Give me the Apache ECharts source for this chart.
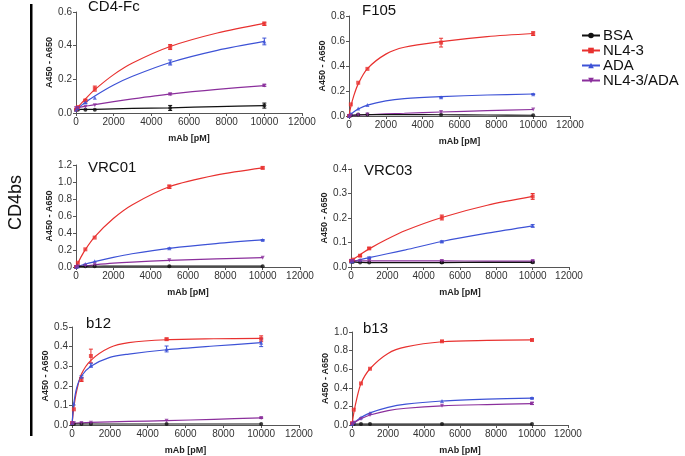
<!DOCTYPE html>
<html>
<head>
<meta charset="utf-8">
<script src="https://cdn.jsdelivr.net/npm/echarts@6/dist/echarts.min.js"></script>
<style>
  html, body { margin: 0; padding: 0; background: #fff; }
  #chart { width: 685px; height: 456px; }
</style>
</head>
<body>
<div id="chart"></div>
<script>
// antibody concentrations, pM (measured points)
const doses = [0, 100, 500, 1000, 5000, 10000]
const fitDoses = [0, 100, 250, 500, 1000, 2000, 3000, 5000, 7500, 10000]
const names = ['BSA', 'NL4-3', 'ADA', 'NL4-3/ADA']
const colors = ['#111111', '#e8312f', '#3d52d6', '#8b2f9c']
const symbols = ['circle', 'rect', 'triangle', 'path://M0,0 L10,0 L5,10 Z']

// rows: BSA, NL4-3, ADA, NL4-3/ADA
const cd4fc = [
  [0.02, 0.02, 0.02, 0.02, 0.03, 0.044],
  [0.02, 0.035, 0.075, 0.145, 0.392, 0.53],
  [0.02, 0.03, 0.062, 0.09, 0.30, 0.425],
  [0.03, 0.03, 0.036, 0.046, 0.112, 0.163]
]
const f105 = [
  [0.0, 0.005, 0.012, 0.012, 0.01, 0.006],
  [0.0, 0.093, 0.266, 0.377, 0.587, 0.659],
  [0.0, 0.02, 0.06, 0.088, 0.151, 0.175],
  [0.0, 0.003, 0.008, 0.012, 0.032, 0.052]
]
const vrc01 = [
  [0.0, 0.005, 0.008, 0.01, 0.01, 0.01],
  [0.0, 0.05, 0.208, 0.346, 0.944, 1.166],
  [0.0, 0.01, 0.035, 0.067, 0.22, 0.318],
  [0.0, 0.005, 0.015, 0.028, 0.078, 0.11]
]
const vrc03 = [
  [0.022, 0.02, 0.018, 0.018, 0.018, 0.019],
  [0.025, 0.03, 0.046, 0.076, 0.202, 0.288],
  [0.022, 0.024, 0.03, 0.038, 0.104, 0.168],
  [0.025, 0.025, 0.025, 0.025, 0.025, 0.024]
]
const b12 = [
  [0.005, 0.005, 0.005, 0.005, 0.005, 0.005],
  [0.01, 0.08, 0.232, 0.352, 0.438, 0.44],
  [0.01, 0.11, 0.246, 0.305, 0.388, 0.42],
  [0.008, 0.01, 0.01, 0.012, 0.022, 0.036]
]
const b13 = [
  [0.01, 0.01, 0.01, 0.01, 0.01, 0.01],
  [0.02, 0.165, 0.447, 0.605, 0.9, 0.914],
  [0.01, 0.03, 0.08, 0.13, 0.258, 0.289],
  [0.01, 0.025, 0.065, 0.107, 0.206, 0.23]
]

// fitted curves, read at fitDoses
const cd4fcFit = [
  [0.02, 0.02, 0.021, 0.021, 0.022, 0.025, 0.027, 0.031, 0.038, 0.044],
  [0.02, 0.034, 0.053, 0.084, 0.139, 0.228, 0.297, 0.395, 0.475, 0.532],
  [0.02, 0.029, 0.042, 0.063, 0.101, 0.166, 0.218, 0.30, 0.372, 0.425],
  [0.03, 0.032, 0.035, 0.04, 0.05, 0.068, 0.084, 0.112, 0.14, 0.163]
]
const f105Fit = [
  [0.005, 0.006, 0.008, 0.01, 0.011, 0.011, 0.011, 0.01, 0.008, 0.006],
  [0.0, 0.075, 0.157, 0.257, 0.379, 0.495, 0.55, 0.595, 0.635, 0.66],
  [0.0, 0.014, 0.032, 0.056, 0.087, 0.121, 0.139, 0.155, 0.168, 0.176],
  [0.0, 0.002, 0.003, 0.006, 0.01, 0.017, 0.022, 0.032, 0.043, 0.052]
]
const vrc01Fit = [
  [0.005, 0.006, 0.007, 0.008, 0.009, 0.01, 0.01, 0.01, 0.01, 0.01],
  [0.0, 0.045, 0.11, 0.205, 0.355, 0.57, 0.73, 0.944, 1.08, 1.166],
  [0.0, 0.007, 0.017, 0.034, 0.064, 0.114, 0.156, 0.22, 0.276, 0.318],
  [0.0, 0.003, 0.007, 0.014, 0.026, 0.045, 0.058, 0.078, 0.096, 0.11]
]
const vrc03Fit = [
  [0.022, 0.021, 0.02, 0.019, 0.018, 0.018, 0.018, 0.018, 0.019, 0.019],
  [0.025, 0.03, 0.038, 0.05, 0.074, 0.114, 0.149, 0.202, 0.252, 0.288],
  [0.022, 0.024, 0.026, 0.03, 0.038, 0.054, 0.07, 0.104, 0.138, 0.168],
  [0.025, 0.025, 0.025, 0.025, 0.025, 0.025, 0.025, 0.025, 0.024, 0.024]
]
const b12Fit = [
  [0.005, 0.005, 0.005, 0.005, 0.005, 0.005, 0.005, 0.005, 0.005, 0.005],
  [0.0, 0.09, 0.175, 0.26, 0.33, 0.395, 0.42, 0.435, 0.44, 0.442],
  [0.0, 0.11, 0.19, 0.25, 0.30, 0.345, 0.362, 0.384, 0.403, 0.42],
  [0.008, 0.009, 0.01, 0.011, 0.013, 0.016, 0.018, 0.022, 0.029, 0.036]
]
const b13Fit = [
  [0.01, 0.01, 0.01, 0.01, 0.01, 0.01, 0.01, 0.01, 0.01, 0.01],
  [0.0, 0.13, 0.27, 0.447, 0.605, 0.77, 0.84, 0.895, 0.91, 0.915],
  [0.0, 0.02, 0.045, 0.08, 0.13, 0.19, 0.225, 0.258, 0.278, 0.289],
  [0.0, 0.018, 0.04, 0.068, 0.107, 0.155, 0.18, 0.206, 0.22, 0.23]
]

// standard deviations, same layout as the points
const cd4fcErr = [
  [0, 0, 0, 0, 0.015, 0.015],
  [0, 0, 0.005, 0.015, 0.015, 0.01],
  [0, 0, 0.005, 0, 0.015, 0.02],
  [0, 0, 0, 0, 0.005, 0.005]
]
const f105Err = [
  [0, 0, 0, 0, 0, 0],
  [0, 0, 0, 0, 0.035, 0.015],
  [0, 0, 0, 0, 0.005, 0.003],
  [0, 0, 0, 0, 0, 0]
]
const vrc01Err = [
  [0, 0, 0, 0, 0, 0],
  [0, 0, 0, 0, 0.02, 0.012],
  [0, 0, 0, 0, 0.005, 0.005],
  [0, 0, 0, 0, 0, 0]
]
const vrc03Err = [
  [0, 0, 0, 0, 0.003, 0.003],
  [0, 0, 0.003, 0.003, 0.01, 0.012],
  [0, 0, 0, 0.003, 0.003, 0.005],
  [0, 0, 0, 0, 0.003, 0.003]
]
const b12Err = [
  [0, 0, 0, 0, 0, 0],
  [0, 0, 0.01, 0.035, 0.005, 0.015],
  [0, 0, 0.005, 0.01, 0.015, 0.02],
  [0, 0, 0, 0, 0, 0.003]
]
const b13Err = [
  [0, 0, 0, 0, 0, 0],
  [0, 0, 0, 0, 0.005, 0.01],
  [0, 0, 0, 0, 0, 0.005],
  [0, 0, 0, 0, 0, 0.01]
]

const panels = [
  { title: 'CD4-Fc', data: cd4fc, fit: cd4fcFit, err: cd4fcErr, ymax: 0.6, step: 0.2,
    grid: { left: 76, top: 12, width: 226, height: 101 }, tx: 88, ty: -1 },
  { title: 'F105', data: f105, fit: f105Fit, err: f105Err, ymax: 0.8, step: 0.2,
    grid: { left: 349, top: 16, width: 221, height: 100 }, tx: 362, ty: 3 },
  { title: 'VRC01', data: vrc01, fit: vrc01Fit, err: vrc01Err, ymax: 1.2, step: 0.2,
    grid: { left: 76, top: 165, width: 224, height: 102 }, tx: 88, ty: 160 },
  { title: 'VRC03', data: vrc03, fit: vrc03Fit, err: vrc03Err, ymax: 0.4, step: 0.1,
    grid: { left: 351, top: 169, width: 218, height: 98 }, tx: 364, ty: 163 },
  { title: 'b12', data: b12, fit: b12Fit, err: b12Err, ymax: 0.5, step: 0.1,
    grid: { left: 72, top: 327, width: 227, height: 101 }, tx: 86, ty: 316 },
  { title: 'b13', data: b13, fit: b13Fit, err: b13Err, ymax: 1.0, step: 0.2,
    grid: { left: 352, top: 332, width: 216, height: 97 }, tx: 363, ty: 321 }
]

const font = 'Liberation Sans, Arial, sans-serif'
const axisColor = '#555'

let grids = []
let xAxes = []
let yAxes = []
let series = []
let graphics = []

panels.forEach((p, i) => {
  grids.push(p.grid)
  xAxes.push({
    type: 'value', gridIndex: i, min: 0, max: 12000, interval: 2000,
    name: 'mAb [pM]', nameLocation: 'middle', nameGap: 21,
    nameTextStyle: { fontFamily: font, fontWeight: 'bold', fontSize: 9, color: '#222' },
    axisLine: { lineStyle: { color: axisColor, width: 1.2 } },
    axisTick: { length: 3, lineStyle: { color: axisColor } },
    axisLabel: { fontFamily: font, fontSize: 10, color: '#333', margin: 4,
      formatter: v => String(v) },
    splitLine: { show: false }
  })
  yAxes.push({
    type: 'value', gridIndex: i, min: 0, max: p.ymax, interval: p.step,
    name: 'A450 - A650', nameLocation: 'middle', nameGap: 17,
    nameTextStyle: { fontFamily: font, fontWeight: 'bold', fontSize: 9, color: '#222' },
    axisLine: { show: true, lineStyle: { color: axisColor } },
    axisTick: { show: true, length: 3, lineStyle: { color: axisColor } },
    axisLabel: { fontFamily: font, fontSize: 10, color: '#333', margin: 4,
      formatter: v => v.toFixed(1) },
    splitLine: { show: false }
  })
  p.data.forEach((row, k) => {
    // fitted curve
    series.push({
      name: names[k], type: 'line', xAxisIndex: i, yAxisIndex: i,
      data: fitDoses.map((d, j) => [d, p.fit[k][j]]),
      smooth: 0.3, showSymbol: false,
      symbol: symbols[k], symbolSize: 6,
      lineStyle: { color: colors[k], width: 1.2 },
      itemStyle: { color: colors[k] },
      z: k === 0 ? 3 : 2
    })
    // measured points
    series.push({
      name: names[k], type: 'scatter', xAxisIndex: i, yAxisIndex: i,
      data: doses.map((d, j) => [d, row[j]]),
      symbol: symbols[k], symbolSize: 4,
      itemStyle: { color: colors[k] },
      z: 4
    })
    // error bars
    series.push({
      type: 'custom', xAxisIndex: i, yAxisIndex: i,
      data: doses.map((d, j) => [d, row[j], p.err[k][j]]).filter(e => e[2] > 0),
      silent: true,
      renderItem: (params, api) => {
        const x = api.value(0), y = api.value(1), e = api.value(2)
        const hi = api.coord([x, y + e])
        const lo = api.coord([x, y - e])
        const st = { stroke: colors[k], lineWidth: 1 }
        return {
          type: 'group',
          children: [
            { type: 'line', shape: { x1: hi[0], y1: hi[1], x2: lo[0], y2: lo[1] }, style: st },
            { type: 'line', shape: { x1: hi[0] - 2, y1: hi[1], x2: hi[0] + 2, y2: hi[1] }, style: st },
            { type: 'line', shape: { x1: lo[0] - 2, y1: lo[1], x2: lo[0] + 2, y2: lo[1] }, style: st }
          ]
        }
      }
    })
  })
  graphics.push({
    type: 'text', left: p.tx, top: p.ty,
    style: { text: p.title, fontFamily: font, fontSize: 15, fill: '#111' }
  })
})

// group label and bracket line
graphics.push({
  type: 'rect', left: 30, top: 4, shape: { width: 2.5, height: 432 },
  style: { fill: '#000' }
})
graphics.push({
  type: 'text', x: 7, y: 230, rotation: Math.PI / 2,
  style: { text: 'CD4bs', fontFamily: font, fontSize: 18, fill: '#111' }
})

const chart = echarts.init(document.getElementById('chart'))
chart.setOption({
  animation: false,
  backgroundColor: '#fff',
  legend: {
    data: names, orient: 'vertical', left: 576, top: 23,
    itemWidth: 18, itemHeight: 7, itemGap: 0,
    textStyle: { fontFamily: font, fontSize: 15, lineHeight: 15, color: '#111', padding: [0, 0, 0, -2] }
  },
  grid: grids,
  xAxis: xAxes,
  yAxis: yAxes,
  series: series,
  graphic: graphics
})
</script>
</body>
</html>
